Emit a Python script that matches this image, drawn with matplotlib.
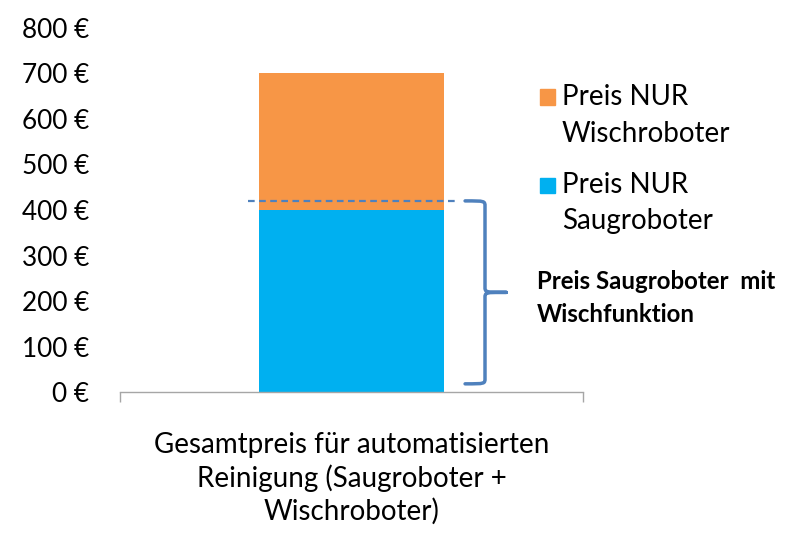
import matplotlib
matplotlib.use("Agg")
import matplotlib.pyplot as plt
from matplotlib.path import Path
from matplotlib.patches import PathPatch, Rectangle

categories = ["Gesamtpreis für automatisierten\nReinigung (Saugroboter +\nWischroboter)"]
saug_values = [400]
wisch_values = [300]
series_labels = ["Preis NUR\nSaugroboter", "Preis NUR\nWischroboter"]
yticks = [0, 100, 200, 300, 400, 500, 600, 700, 800]
ytick_labels = [f"{v} €" for v in yticks]
combo_price = 420
brace_label = "Preis Saugroboter  mit\nWischfunktion"

FONT = "Lato"
plt.rcParams['font.family'] = [FONT, 'DejaVu Sans']

c_orange = "#F79646"
c_blue = "#00B0F0"
c_line = "#4F81BD"

W, H = 800, 533
fig = plt.figure(figsize=(8, 5.33), dpi=100)
ax = fig.add_axes([0.15, 0.2645, 0.579, 0.683])

x = [0]
ax.bar(x, saug_values, width=0.4, color=c_blue, label=series_labels[0])
ax.bar(x, wisch_values, width=0.4, bottom=saug_values, color=c_orange, label=series_labels[1])

ax.set_xlim(-0.5, 0.5)
ax.set_ylim(0, 800)
ax.set_yticks(yticks)
ax.set_yticklabels(ytick_labels, fontsize=18.8, color="#000000")
ax.tick_params(axis='y', length=0, pad=22)
ax.set_xticks([])
ax.set_xticks([-0.5, 0.5], minor=True)
ax.tick_params(axis='x', which='minor', length=7.5, color="#A6A6A6", width=1, direction='out')
for s in ['top', 'right', 'left']:
    ax.spines[s].set_visible(False)
ax.spines['bottom'].set_color("#A6A6A6")
ax.spines['bottom'].set_linewidth(1)

ax.set_xlabel(categories[0], fontsize=20, linespacing=1.27, labelpad=18)

# dashed line
ax.plot([-0.2235, 0.2235], [combo_price, combo_price], ls=(0, (3, 2)), color=c_line, lw=1.6)

# brace
xl, xm, xt = 0.245, 0.288, 0.334
top, bot = combo_price, 18
mid = (top + bot) / 2
r = 12
verts = [
    (xl, top), (xm, top), (xm, top), (xm, top - r),
    (xm, mid + r),
    (xm, mid), (xm, mid), (xt, mid),
    (xm, mid), (xm, mid), (xm, mid - r),
    (xm, bot + r),
    (xm, bot), (xm, bot), (xl, bot),
]
codes = [Path.MOVETO, Path.CURVE4, Path.CURVE4, Path.CURVE4,
         Path.LINETO,
         Path.CURVE4, Path.CURVE4, Path.CURVE4,
         Path.CURVE4, Path.CURVE4, Path.CURVE4,
         Path.LINETO,
         Path.CURVE4, Path.CURVE4, Path.CURVE4]
ax.add_patch(PathPatch(Path(verts, codes), fill=False, edgecolor=c_line, lw=2.5, clip_on=False,
                       capstyle='round', joinstyle='round'))

fig.text(537 / W, 1 - 298 / H, brace_label, fontsize=17.3, fontweight='bold',
         ha='left', va='center', linespacing=1.5)

# legend (manual, Excel style: marker aligned with first line)
legend_items = [(series_labels[1], c_orange, 97), (series_labels[0], c_blue, 185)]
for label, col, yc in legend_items:
    fig.patches.append(Rectangle((540 / W, 1 - (yc + 7.5) / H), 15 / W, 15 / H,
                                 transform=fig.transFigure, color=col, figure=fig))
    fig.text(562 / W, 1 - (yc - 13) / H, label, fontsize=20, ha='left', va='top',
             linespacing=1.5)

fig.savefig("out.png", dpi=100)
